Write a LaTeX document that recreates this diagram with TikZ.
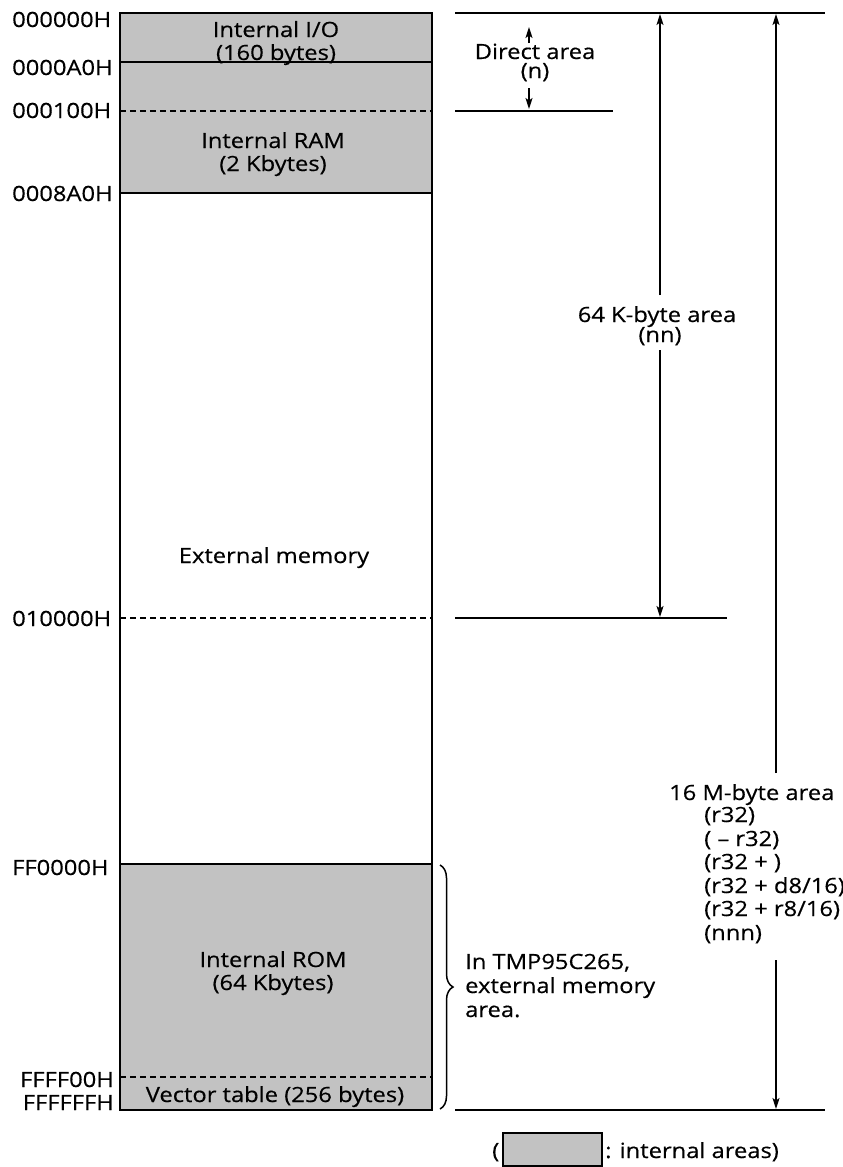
\documentclass[tikz,border=0pt]{standalone}
\usepackage{fontspec}
\setmainfont{Open Sans}[FakeStretch=1.13,FakeBold=0.45]
\usetikzlibrary{arrows.meta,decorations.pathreplacing}
\begin{document}
\begin{tikzpicture}[x=1pt,y=-1pt,
  txt/.style={font=\fontsize{21}{23}\selectfont, inner sep=0pt, anchor=base},
  lbl/.style={txt, anchor=base west},
  lblr/.style={txt, anchor=base east},
  shade/.style={fill=black!24},
  frame/.style={line width=1.9pt},
  sep/.style={line width=1.4pt},
  dsep/.style={line width=1.3pt, dash pattern=on 6pt off 4pt},
  rline/.style={line width=1.9pt},
  arr/.style={line width=1.4pt, -{Stealth[length=11pt,width=7pt,inset=2.5pt]}}
]
\useasboundingbox (0,0) rectangle (843,1167);
% box corners
\coordinate (tl) at (120,13);
\coordinate (tr) at (432,13);
\coordinate (bl) at (120,1110);
\coordinate (br) at (432,1110);
% separators
\coordinate (a0l) at (120,62);   \coordinate (a0r) at (432,62);
\coordinate (s1l) at (120,111);  \coordinate (s1r) at (432,111);
\coordinate (s2l) at (120,193);  \coordinate (s2r) at (432,193);
\coordinate (s3l) at (120,618);  \coordinate (s3r) at (432,618);
\coordinate (s4l) at (120,864);  \coordinate (s4r) at (432,864);
\coordinate (s5l) at (120,1077); \coordinate (s5r) at (432,1077);
% shaded areas
\fill[shade] (tl) rectangle (s2r);
\fill[shade] (s4l) rectangle (br);
% separators
\draw[sep] (a0l) -- (a0r);
\draw[dsep] (s1l) -- (s1r);
\draw[sep] (s2l) -- (s2r);
\draw[dsep] (s3l) -- (s3r);
\draw[sep] (s4l) -- (s4r);
\draw[dsep] (s5l) -- (s5r);
\draw[frame] (tl) rectangle (br);
% address labels
\node[lbl] (l0) at (12,27) {000000H};
\node[lbl] (l1) at (12,75) {0000A0H};
\node[lbl] (l2) at (12,118) {000100H};
\node[lbl] (l3) at (12,201) {0008A0H};
\node[lbl] (l4) at (12,626) {010000H};
\node[lbl] (l5) at (12,875) {FF0000H};
\node[lblr] (l6) at (114,1087) {FFFF00H};
\node[lblr] (l7) at (114,1110) {FFFFFFH};
% box texts
\node[txt] (io1) at (276,37) {Internal I/O};
\node[txt] (io2) at (276,60) {(160 bytes)};
\node[txt] (ram1) at (273,148) {Internal RAM};
\node[txt] (ram2) at (273,171) {(2 Kbytes)};
\node[txt] (ext) at (274,563) {External memory};
\node[txt] (rom1) at (273,967) {Internal ROM};
\node[txt] (rom2) at (273,990) {(64 Kbytes)};
\node[txt] (vec) at (275,1102) {Vector table (256 bytes)};
% right-side lines
\coordinate (t1) at (455,13);   \coordinate (t2) at (825,13);
\coordinate (d1) at (455,111);  \coordinate (d2) at (613,111);
\coordinate (k1) at (455,618);  \coordinate (k2) at (727,618);
\coordinate (b1) at (455,1110); \coordinate (b2) at (825,1110);
\draw[rline] (t1) -- (t2);
\draw[rline] (d1) -- (d2);
\draw[rline] (k1) -- (k2);
\draw[rline] (b1) -- (b2);
% direct area
\coordinate (da1) at (529,43);  \coordinate (da2) at (529,27);
\coordinate (da3) at (529,88);  \coordinate (da4) at (529,109);
\draw[arr] (da1) -- (da2);
\draw[arr] (da3) -- (da4);
\node[txt] (dir1) at (535,59) {Direct area};
\node[txt] (dir2) at (535,78) {(n)};
% 64K area
\coordinate (ka1) at (660,295); \coordinate (ka2) at (660,14);
\coordinate (ka3) at (660,350); \coordinate (ka4) at (660,617);
\draw[arr] (ka1) -- (ka2);
\draw[arr] (ka3) -- (ka4);
\node[txt] (k64a) at (657,322) {64 K-byte area};
\node[txt] (k64b) at (660,342) {(nn)};
% 16M area
\coordinate (ma1) at (776,773); \coordinate (ma2) at (776,14);
\coordinate (ma3) at (776,960); \coordinate (ma4) at (776,1109);
\draw[arr] (ma1) -- (ma2);
\draw[arr] (ma3) -- (ma4);
\node[lbl] (m0) at (669,800) {16 M-byte area};
\node[lbl] (m1) at (704,822) {(r32)};
\node[lbl] (m2) at (704,846) {( – r32)};
\node[lbl] (m3) at (704,869) {(r32 + )};
\node[lbl] (m4) at (704,893) {(r32 + d8/16)};
\node[lbl] (m5) at (704,916) {(r32 + r8/16)};
\node[lbl] (m6) at (704,940) {(nnn)};
% brace
\coordinate (br1) at (440,865); \coordinate (br2) at (440,1109);
\draw[line width=1.5pt, decorate, decoration={brace, amplitude=13pt, aspect=0.5}] (br1) -- (br2);
\node[lbl] (tmp1) at (465,969) {In TMP95C265,};
\node[lbl] (tmp2) at (465,993) {external memory};
\node[lbl] (tmp3) at (465,1017) {area.};
% legend
\node[lbl] (lg0) at (492,1158) {(};
\draw[shade, draw=black, line width=1.4pt] (503,1133) rectangle (602,1166);
\node[lbl] (lg1) at (605,1158) {: internal areas)};
\end{tikzpicture}
\end{document}
